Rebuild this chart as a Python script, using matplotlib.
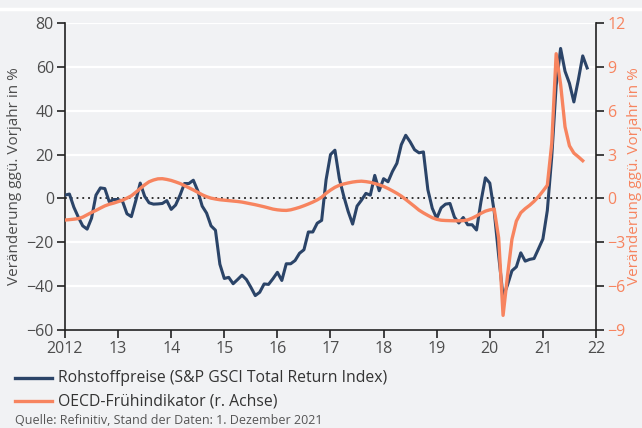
import numpy as np
import matplotlib.pyplot as plt
from matplotlib.lines import Line2D

plt.rcParams['font.family'] = ['Open Sans', 'DejaVu Sans']

# monthly, Jan 2012 .. Nov 2021, yoy change in %
rohstoffe = [
    1.5, 2, -4, -8.5, -12.5, -14, -9, 1.5, 4.8, 4.5, -1.5, -0.5,
    -0.5, -1.3, -7, -8.3, -1, 7, 1, -2, -2.6, -2.5, -2.3, -1,
    -5, -3, 1.5, 6.8, 6.8, 8.3, 3.5, -3.5, -6.7, -12.5, -14.5, -30,
    -36.5, -36, -38.9, -37, -35, -37, -40.5, -44.3, -42.8, -39, -39.2, -36.6,
    -33.7, -37.4, -29.8, -29.8, -28.3, -25, -23.4, -15.3, -15.3, -11.3, -10, 8.5,
    20, 22, 9, 1, -6, -11.7, -3.5, -0.8, 2.3, 1.5, 10.5, 3.5,
    9, 7.6, 12.3, 16, 24.5, 28.8, 25.8, 22.2, 20.8, 21.2, 4, -4.5,
    -9.1, -4.3, -2.6, -2.3, -8.5, -11.2, -8.7, -12, -12, -14.4, -1.5, 9.4,
    7, -6, -26, -44.8, -39.5, -33, -31.2, -24.8, -28.6, -27.8, -27.4, -23,
    -18.5, -5.5, 19, 51.5, 68.4, 58, 52.5, 44, 54, 65, 59.5,
]

# monthly, Jan 2012 .. Oct 2021 (right axis)
oecd = [
    -1.48, -1.45, -1.42, -1.38, -1.28, -1.12, -0.96, -0.82, -0.66, -0.51, -0.40, -0.32,
    -0.22, -0.12, 0.02, 0.18, 0.42, 0.68, 0.93, 1.14, 1.26, 1.34, 1.35, 1.30,
    1.23, 1.13, 1.02, 0.88, 0.73, 0.58, 0.42, 0.25, 0.12, 0.02, -0.04, -0.09,
    -0.12, -0.15, -0.18, -0.21, -0.25, -0.31, -0.37, -0.43, -0.50, -0.57, -0.65, -0.73,
    -0.78, -0.81, -0.82, -0.78, -0.70, -0.61, -0.50, -0.38, -0.25, -0.10, 0.08, 0.35,
    0.57, 0.76, 0.90, 0.99, 1.06, 1.12, 1.16, 1.18, 1.15, 1.10, 1.02, 0.93,
    0.82, 0.68, 0.52, 0.35, 0.16, -0.07, -0.31, -0.55, -0.80, -0.99, -1.16, -1.32,
    -1.43, -1.49, -1.51, -1.52, -1.53, -1.53, -1.52, -1.47, -1.35, -1.20, -1.02, -0.87,
    -0.78, -0.73, -2.7, -8.0, -5.3, -2.8, -1.55, -0.98, -0.70, -0.47, -0.20, 0.12,
    0.50, 0.90, 3.76, 9.9, 7.8, 4.9, 3.6, 3.1, 2.85, 2.58,
]

year_ticks = list(range(2012, 2023))
year_labels = ['2012', '13', '14', '15', '16', '17', '18', '19', '20', '21', '22']
left_ticks = [-60, -40, -20, 0, 20, 40, 60, 80]
right_ticks = [-9, -6, -3, 0, 3, 6, 9, 12]

bg = '#f1f2f4'
blue = '#2b4468'
orange = '#f7845f'
grey = '#4d4d4d'

x_blue = 2012 + np.arange(len(rohstoffe)) / 12
x_oecd = 2012 + np.arange(len(oecd)) / 12

fig = plt.figure(figsize=(6.42, 4.28), dpi=100, facecolor=bg)
ax = fig.add_axes([65 / 642, 1 - 330 / 428, 531 / 642, 307 / 428])
ax.set_facecolor(bg)
ax2 = ax.twinx()

for t in left_ticks:
    if t != 0:
        ax.axhline(t, color='white', lw=1.6, zorder=0)
ax.axhline(0, color='#222222', lw=1.3, ls=(0, (1, 2.2)), zorder=1)

ax.plot(x_blue, rohstoffe, color=blue, lw=2.2, zorder=3)
ax2.plot(x_oecd, oecd, color=orange, lw=2.4, zorder=3)

ax.set_xlim(2012, 2022)
ax.set_ylim(-60, 80)
ax2.set_ylim(-9, 12)
ax.set_xticks(year_ticks)
ax.set_xticklabels(year_labels)
ax.set_yticks(left_ticks)
ax2.set_yticks(right_ticks)

ax.spines['top'].set_visible(False)
ax2.spines['top'].set_visible(False)
ax2.spines['left'].set_visible(False)
ax2.spines['bottom'].set_visible(False)
ax.spines['right'].set_visible(False)
for s in ['left', 'bottom']:
    ax.spines[s].set_color('#222222')
    ax.spines[s].set_linewidth(1.2)
ax2.spines['right'].set_color('#222222')
ax2.spines['right'].set_linewidth(1.2)

ax.tick_params(axis='both', colors='#222222', labelcolor=grey, labelsize=11.5,
               length=6, width=1.2, pad=2)
ax2.tick_params(axis='y', colors='#222222', labelcolor=orange, labelsize=11.5,
                length=6, width=1.2, pad=2)

ax.set_ylabel('Veränderung ggü. Vorjahr in %', color=grey, fontsize=11, labelpad=3)
ax2.set_ylabel('Veränderung ggü. Vorjahr in %', color=orange, fontsize=11,
               rotation=90, labelpad=1)

# white stripe at the top
fig.add_artist(Line2D([0, 1], [1 - 8.5 / 428, 1 - 8.5 / 428], color='white', lw=2.5,
                      transform=fig.transFigure))

# legend
for y, c, txt in [(378, blue, 'Rohstoffpreise (S&P GSCI Total Return Index)'),
                  (401, orange, 'OECD-Frühindikator (r. Achse)')]:
    fy = 1 - y / 428
    fig.add_artist(Line2D([15 / 642, 52 / 642], [fy, fy], color=c, lw=2.4,
                          transform=fig.transFigure))
    fig.text(58 / 642, fy, txt, fontsize=11.3, color='#333333', va='center')

fig.text(15 / 642, 1 - 420 / 428, 'Quelle: Refinitiv, Stand der Daten: 1. Dezember 2021',
         fontsize=9, color='#555555', va='center')

fig.savefig('out.png', dpi=100, facecolor=bg)
